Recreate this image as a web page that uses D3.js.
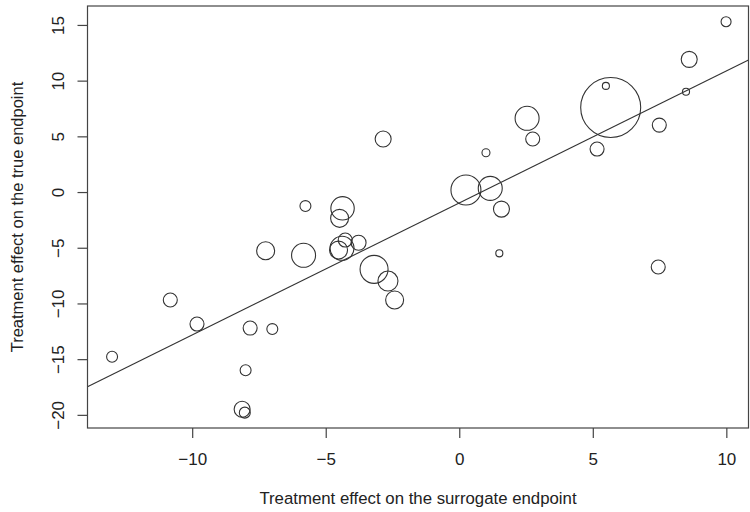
<!DOCTYPE html>
<html>
<head>
<meta charset="utf-8">
<script src="https://cdn.jsdelivr.net/npm/d3@7"></script>
<style>
  html, body { margin: 0; padding: 0; background: #fff; }
  svg { display: block; }
  text { font-family: "Liberation Sans", Arial, Helvetica, sans-serif; fill: #222; }
</style>
</head>
<body>
<svg id="chart" width="750" height="512"></svg>
<script>
// Treatment effect on surrogate endpoint (x) and true endpoint (y), per trial
const surrogateEffect = [-10.82, -9.82, -13.0, -7.83, -7.0, -8.0, -8.13, -8.03, -5.76, -4.37,
                         -4.48, -7.25, -5.83, -4.27, -3.77, -4.39, -4.52, -3.19, -2.67, -2.42,
                         -2.85, 0.25, 1.16, 1.58, 1.50, 1.0, 2.54, 2.75, 5.67, 5.49,
                         5.16, 7.49, 7.45, 8.49, 8.61, 9.99];
const trueEffect = [-9.69, -11.85, -14.78, -12.21, -12.3, -16.0, -19.5, -19.8, -1.26, -1.46,
                    -2.36, -5.27, -5.68, -4.31, -4.55, -5.05, -5.21, -6.94, -7.99, -9.69,
                    4.76, 0.18, 0.33, -1.53, -5.50, 3.53, 6.62, 4.76, 7.59, 9.53,
                    3.86, 6.01, -6.73, 9.0, 11.91, 15.29];
// trial weights (bubble area proportional to weight)
const trialWeight = [98, 98, 60, 98, 60, 60, 128, 60, 60, 274,
                     162, 162, 288, 98, 112, 288, 162, 392, 200, 162,
                     128, 450, 288, 128, 25, 32, 288, 98, 1800, 25,
                     98, 98, 98, 25, 128, 50];
// regression line: true = intercept + slope * surrogate
const regIntercept = -0.98;
const regSlope = 1.1856;
const xTicks = [-10, -5, 0, 5, 10];
const yTicks = [-20, -15, -10, -5, 0, 5, 10, 15];
const xTitle = "Treatment effect on the surrogate endpoint";
const yTitle = "Treatment effect on the true endpoint";

const svg = d3.select("#chart");
const L = 87.5, R = 748.5, T = 6, B = 428;

const x = d3.scaleLinear().domain([-13.92, 10.83]).range([L, R]);
const y = d3.scaleLinear().domain([-21.18, 16.7]).range([B, T]);
const r = d3.scaleSqrt().domain([0, d3.max(trialWeight)]).range([0, 30]);

svg.append("defs").append("clipPath").attr("id", "clip")
  .append("rect").attr("x", L).attr("y", T).attr("width", R - L).attr("height", B - T);

const data = surrogateEffect.map((d, i) => ({ sx: d, ty: trueEffect[i], w: trialWeight[i] }));

// regression line
const xd = x.domain();
svg.append("line")
  .attr("clip-path", "url(#clip)")
  .attr("x1", x(xd[0])).attr("y1", y(regIntercept + regSlope * xd[0]))
  .attr("x2", x(xd[1])).attr("y2", y(regIntercept + regSlope * xd[1]))
  .attr("stroke", "#333").attr("stroke-width", 1.1);

// bubbles
svg.append("g").attr("clip-path", "url(#clip)")
  .selectAll("circle").data(data).join("circle")
  .attr("cx", d => x(d.sx)).attr("cy", d => y(d.ty)).attr("r", d => r(d.w))
  .attr("fill", "none").attr("stroke", "#333").attr("stroke-width", 1.1);

// box
svg.append("rect").attr("x", L).attr("y", T).attr("width", R - L).attr("height", B - T)
  .attr("fill", "none").attr("stroke", "#444").attr("stroke-width", 1.2);

// x axis
const xAxis = d3.axisBottom(x).tickValues(xTicks).tickSize(10).tickPadding(15)
  .tickFormat(d => d < 0 ? "\u2212" + Math.abs(d) : String(d));
const gx = svg.append("g").attr("transform", `translate(0,${B})`).call(xAxis);
gx.select(".domain").remove();
gx.selectAll(".tick line").attr("stroke", "#444").attr("stroke-width", 1.2);
gx.selectAll(".tick text").attr("font-size", 17).attr("fill", "#222")
  .attr("font-family", "Liberation Sans, Arial, sans-serif");

// y axis
const yAxis = d3.axisLeft(y).tickValues(yTicks).tickSize(10).tickPadding(0)
  .tickFormat(d => d < 0 ? "\u2212" + Math.abs(d) : String(d));
const gy = svg.append("g").attr("transform", `translate(${L},0)`).call(yAxis);
gy.select(".domain").remove();
gy.selectAll(".tick line").attr("stroke", "#444").attr("stroke-width", 1.2);
gy.selectAll(".tick text")
  .attr("font-size", 17).attr("fill", "#222")
  .attr("font-family", "Liberation Sans, Arial, sans-serif")
  .attr("x", null).attr("dy", null)
  .attr("text-anchor", "middle")
  .attr("transform", `translate(${63.5 - L},0) rotate(-90)`);

// titles
svg.append("text").attr("x", (L + R) / 2).attr("y", 504)
  .attr("text-anchor", "middle").attr("font-size", 16.8).text(xTitle);
svg.append("text").attr("transform", `translate(22.5,${(T + B) / 2}) rotate(-90)`)
  .attr("text-anchor", "middle").attr("font-size", 16.5).text(yTitle);
</script>
</body>
</html>
